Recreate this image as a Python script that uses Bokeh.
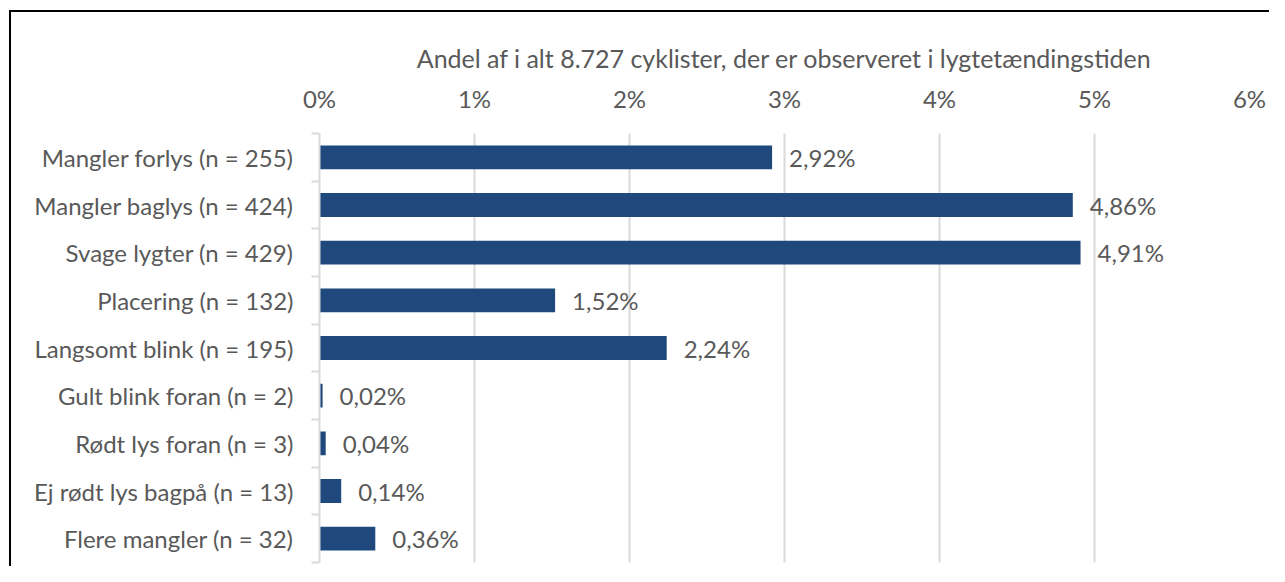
from bokeh.plotting import figure
from bokeh.models import ColumnDataSource, Range1d, FixedTicker, PrintfTickFormatter, InlineStyleSheet
from bokeh.embed import file_html
from bokeh.resources import INLINE
from bokeh.core.properties import value

categories = [
    "Mangler forlys (n = 255)",
    "Mangler baglys (n = 424)",
    "Svage lygter (n = 429)",
    "Placering (n = 132)",
    "Langsomt blink (n = 195)",
    "Gult blink foran (n = 2)",
    "Rødt lys foran (n = 3)",
    "Ej rødt lys bagpå (n = 13)",
    "Flere mangler (n = 32)",
]
shares = [2.92, 4.86, 4.91, 1.52, 2.24, 0.02, 0.04, 0.14, 0.36]
x_ticks = [0, 1, 2, 3, 4, 5, 6]
axis_title = "Andel af i alt 8.727 cyklister, der er observeret i lygtetændingstiden"

FONT = "Lato"
TXT = "#595959"
GRID = "#D9D9D9"
BAR = "#1F497D"
FS = "24px"

pos = list(range(1, len(categories) + 1))
labels = [f"{v:.2f}".replace(".", ",") + "%" for v in shares]
src = ColumnDataSource(dict(y=pos, x=shares, lab=labels))

p = figure(
    width=1269, height=566,
    x_range=Range1d(0, 6), y_range=Range1d(len(categories) + 0.5, 0.5),
    x_axis_location="above",
    output_backend="svg", toolbar_location=None,
    min_border_left=319, min_border_right=20, min_border_top=133, min_border_bottom=4,
)
p.styles = {"position": "relative"}
p.stylesheets = [InlineStyleSheet(css=(
    ":host::after { content: ''; position: absolute; left: 9px; top: 10px; right: 0; bottom: 0;"
    " border-top: 2px solid black; border-left: 2px solid black; pointer-events: none; z-index: 10; }"
))]
p.outline_line_color = None
p.background_fill_color = "white"
p.border_fill_color = "white"

p.hbar(y="y", right="x", left=0, height=0.5, source=src, color=BAR, line_color=None)
p.text(x="x", y="y", text="lab", source=src, x_offset=17, text_align="left",
       text_baseline="middle", text_font=value(FONT), text_font_size=FS, text_color=TXT)

# x axis (top)
xa = p.xaxis[0]
xa.ticker = FixedTicker(ticks=x_ticks)
xa.formatter = PrintfTickFormatter(format="%d%%")
xa.axis_line_color = None
xa.major_tick_line_color = None
xa.minor_tick_line_color = None
xa.major_tick_out = 0
xa.major_tick_in = 0
xa.major_label_standoff = 21
xa.major_label_text_font = FONT
xa.major_label_text_font_size = FS
xa.major_label_text_color = TXT
xa.axis_label = axis_title
xa.axis_label_standoff = 8
xa.axis_label_text_font = FONT
xa.axis_label_text_font_size = "25px"
xa.axis_label_text_font_style = "normal"
xa.axis_label_text_color = TXT

# y axis (categories)
ya = p.yaxis[0]
ya.ticker = FixedTicker(ticks=pos, minor_ticks=[i + 0.5 for i in range(0, len(categories) + 1)])
ya.major_label_overrides = {i: c for i, c in zip(pos, categories)}
ya.axis_line_color = GRID
ya.axis_line_width = 2
ya.major_tick_line_color = None
ya.minor_tick_line_color = GRID
ya.minor_tick_line_width = 2
ya.minor_tick_out = 8
ya.minor_tick_in = 0
ya.major_tick_out = 0
ya.major_tick_in = 0
ya.major_label_standoff = 18
ya.major_label_text_font = FONT
ya.major_label_text_font_size = FS
ya.major_label_text_color = TXT

p.xgrid.ticker = FixedTicker(ticks=x_ticks)
p.xgrid.grid_line_color = GRID
p.xgrid.grid_line_width = 2
p.ygrid.grid_line_color = None

open("out.html", "w").write(file_html(p, INLINE))
